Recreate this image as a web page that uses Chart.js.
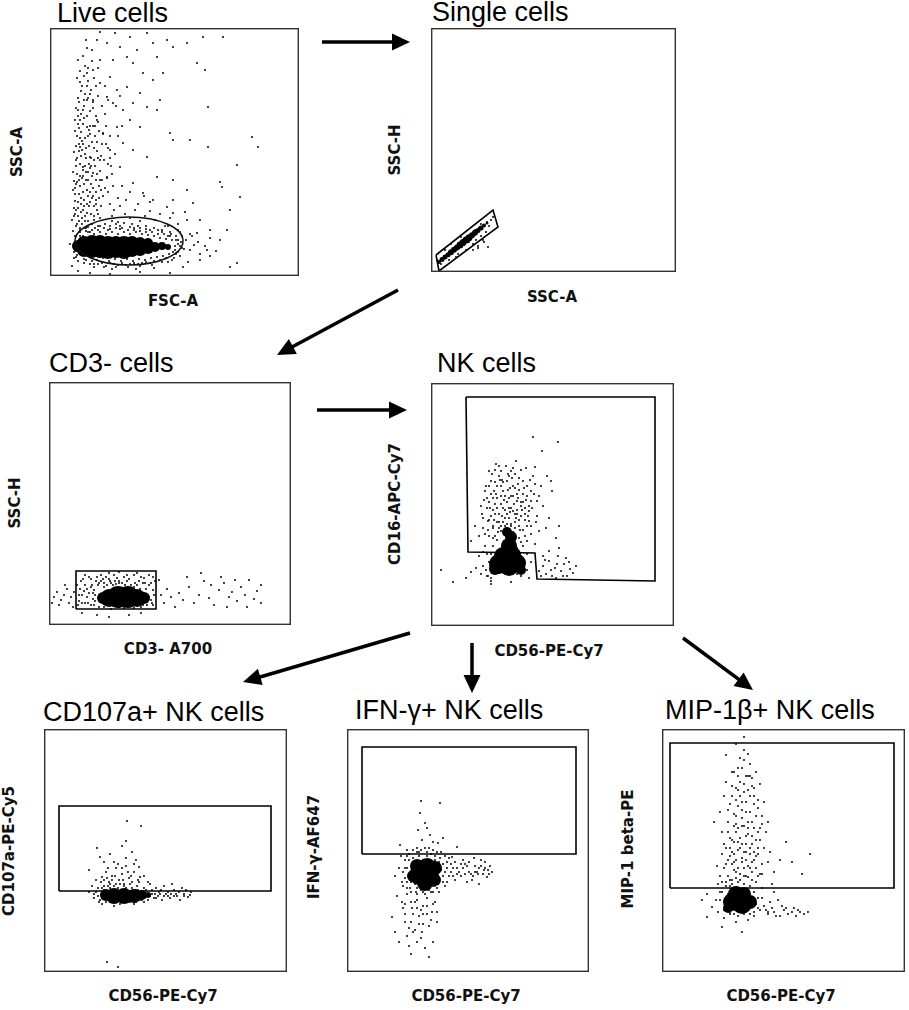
<!DOCTYPE html>
<html lang="en">
<head>
  <meta charset="UTF-8">
  <title>NK cell gating</title>
  <style>
    body { margin: 0; background: #fff; }
    #page { position: relative; width: 909px; height: 1010px; overflow: hidden; background: #fff; }
    .panel { position: absolute; }
    .panel canvas { display: block; }
    .title {
      position: absolute; white-space: nowrap; line-height: 1;
      font-family: "Liberation Sans", Arial, sans-serif; font-size: 27px; color: #000;
    }
    .axis {
      position: absolute; white-space: nowrap; line-height: 1;
      font-family: "DejaVu Sans", Verdana, sans-serif; font-size: 15px; font-weight: bold; color: #111;
      transform: translate(-50%, -50%);
    }
    .axis.rot { transform: translate(-50%, -50%) rotate(-90deg); }
    svg { position: absolute; left: 0; top: 0; }
  </style>
</head>
<body>
  <div id="page"></div>

  <script src="https://cdn.jsdelivr.net/npm/chart.js@4"></script>
  <script>
    // ==== data (units: channel value, 0 at lower-left of each plot) ====
    // each plot: single events (dots), solid high-density core, gate

    // Live cells: FSC-A vs SSC-A
    const liveDots = [
      [47,236],[50,244],[57,233],[65,243],[70,229],[80,239],[87,226],[97,243],[103,233],[117,236],[123,229],[137,233],
      [153,239],[173,239],[155,206],[147,213],[107,219],[93,203],[83,213],[77,219],[63,216],[50,216],[43,206],[37,203],
      [50,193],[60,199],[67,186],[77,189],[90,183],[103,196],[113,203],[110,176],[97,169],[83,173],[73,166],[63,173],
      [57,179],[43,176],[33,166],[30,156],[37,149],[47,156],[53,143],[67,149],[80,156],[90,149],[107,166],[120,143],
      [123,136],[140,136],[158,169],[158,129],[202,139],[208,129],[187,111],[170,94],[172,89],[190,79],[180,66],[177,46],
      [160,46],[150,56],[143,73],[137,86],[123,96],[107,99],[97,119],[83,126],[73,133],[60,126],[50,116],[40,119],
      [30,129],[33,109],[43,103],[57,99],[70,109],[83,93],[93,83],[103,76],[117,69],[123,63],[137,56],[147,43],
      [157,26],[180,9],[187,13],[133,9],[150,16],[123,76],
      [28,60],[31,72],[35,55],[38,80],[30,90],[33,100],[36,118],[29,125],[41,92],[44,70],[27,140],[32,135],
      [39,130],[45,140],[28,160],[34,170],[40,165],[31,185],[38,195],[43,150],[47,125],[50,105],[26,110],[30,48],
      [36,45],[42,52],[48,62],[53,80],[55,88],[58,112],[46,84],[37,63],[33,84],[25,75],[52,132],[56,150],
      [28,178],[35,210],[24,95],[40,108],[49,145],[60,140],[62,60],[66,52],[70,70],[75,62],[80,58],[85,66],
      [90,55],[95,60],[100,65],[105,56],[110,62],[115,50],[120,58],[128,52],[135,64],[142,40],[148,34],[155,30],
      [160,38],[166,25],[30,30],[26,25],[24,18],[22,10],[28,5],[40,3],[60,2],[90,4],[120,3],[160,20],[170,36],
      [26,66],[29,82],[32,58],[34,92],[27,102],[36,104],[30,112],[38,96],[42,78],[25,88],[31,120],[35,138],
      [29,148],[26,130],[40,142],[33,152],[37,176],[24,60],[27,52],[44,60],[39,70],[46,96],[51,70],[33,66],
      [30,40],[35,48],[40,44],[45,48],[50,50],[55,52],[62,55],[68,54],[74,53],[82,52],[88,50],[96,50],
      [104,48],[112,46],[120,44],[126,40],[131,34],[134,27],[130,20],[122,16],[112,14],[100,13],[88,12],[76,11],
      [64,12],[52,13],[42,15],[34,17],[27,21],[25,40],[58,46],[70,47],[84,46],[96,44],[108,42],[118,40],
      [140,42],[144,31],[150,22],[138,14],[62,7],[44,9],[86,7],[104,8],[125,30],[128,36],[123,24],[20,32],
      [23,45],[26,50],[29,55],[32,52],[35,60],[38,55],[41,62],[44,56],[47,66],[50,58],[24,68],[28,74],
      [31,78],[34,70],[37,86],[40,74],[43,88],[46,76],[49,90],[52,96],[25,82],[27,94],[30,100],[33,106],
      [36,96],[39,112],[42,100],[45,110],[48,118],[51,86],[23,104],[26,116],[29,132],[32,126],[35,122],[38,140],
      [41,118],[44,128],[47,134],[25,145],[28,152],[31,144],[34,158],[37,160],[40,150],[43,168],[46,160],[26,168],
      [29,174],[32,190],[35,182],[38,178],[41,186],[27,198],[30,205],[33,220],[37,228],[44,198],[42,215],[48,180],
      [52,170],[55,162],[58,128],[54,116],[57,98],[60,72],[63,90],[61,110],[65,122],[68,140],[72,150],[66,170],[70,180],
      [22,56],[25,62],[28,68],[31,64],[34,76],[37,72],[40,84],[43,80],[46,72],[49,78],[23,86],[26,92],
      [29,96],[32,98],[35,110],[38,104],[41,110],[44,116],[47,102],[50,96],[24,124],[27,118],[30,138],[33,132],
      [36,128],[39,146],[42,134],[45,150],[48,154],[51,120],[25,156],[28,166],[31,162],[34,176],[37,190],[40,182],
      [43,174],[46,190],[30,194],[34,200],[38,208],[28,216],[36,236],[42,226],[48,208],[55,190],[58,176],[53,142],
      [56,132],[60,118],[62,102],[58,84],[64,66],[68,78],[72,90],[76,76],[80,84],[88,72],[94,80],[100,74],
      [28,34],[26,28],[30,22],[33,40],[36,16],[38,44],[41,20],[44,42],[47,16],[50,44],[53,18],[56,42],
      [59,15],[62,44],[65,17],[68,42],[71,15],[74,44],[77,17],[80,42],[83,15],[86,44],[89,17],[92,42],
      [95,16],[98,41],[101,18],[104,40],[107,19],[110,38],[113,20],[116,37],[119,22],[122,36],[125,26],[128,32],
      [121,42],[112,44],[100,46],[90,48],[80,49],[70,50],[60,50],[48,50],[38,49],[30,46],[26,40],[24,32],
      [44,12],[56,10],[68,11],[80,12],[92,13],[104,15],[116,18],[126,22],[132,28],[132,40],[128,46],[118,50],
      [30,44],[36,48],[42,46],[48,46],[54,48],[60,47],[66,48],[72,48],[78,46],[84,48],[90,45],[96,47],
      [102,44],[108,46],[114,42],[120,40],[126,36],[130,30],[128,24],[124,18],[118,14],[110,16],[102,11],[96,14],
      [90,10],[84,13],[78,9],[72,13],[66,9],[60,13],[54,9],[48,12],[40,12],[34,13],[28,15],[26,19],
      [24,24],[130,44],[136,36],[140,26]
    ];
    const liveCore = [
      {x:28,y:30,r:6},{x:34,y:26,r:7},{x:34,y:33,r:7},{x:42,y:25,r:7},{x:42,y:33,r:8},{x:50,y:26,r:8},
      {x:50,y:34,r:7},{x:58,y:25,r:8},{x:58,y:32,r:8},{x:66,y:26,r:8},{x:66,y:33,r:7},{x:74,y:25,r:8},
      {x:74,y:32,r:8},{x:82,y:26,r:7},{x:82,y:33,r:7},{x:90,y:27,r:7},{x:90,y:33,r:6},{x:98,y:28,r:6},
      {x:98,y:33,r:5},{x:105,y:29,r:5},{x:112,y:30,r:4},{x:118,y:29,r:3}
    ];
    const liveGate = [79, 35, 54, 24];               // ellipse: centre x, centre y, radius x, radius y

    // Single cells: SSC-A vs SSC-H
    const singleDots = [
      [56,50],[60,52],[50,48],[44,42],[38,30],[45,32],[50,36],[42,28],[47,26],[53,30],[35,22],[30,35],
      [20,28],[14,22],[25,15],[55,40],[58,46],[42,22],[47,24],[52,32],[57,25],[10,8],[6,12],[62,55],
      [33,27],[27,18],[18,12],[40,38],[48,44],[36,34]
    ];
    const singleCore = [
      {x:8,y:10,r:2},{x:11,y:12.4,r:2.5},{x:14,y:14.9,r:2.5},{x:17,y:17.3,r:2.5},{x:20,y:19.7,r:3},
      {x:23,y:22.2,r:3},{x:26,y:24.6,r:3},{x:29,y:27,r:3.5},{x:32,y:29.4,r:3.5},{x:35,y:31.9,r:3.5},
      {x:38,y:34.3,r:3.5},{x:41,y:36.7,r:3},{x:44,y:39.2,r:3},{x:47,y:41.6,r:2.5},{x:50,y:44,r:2.5},
      {x:53,y:46.5,r:2},{x:56,y:48.9,r:1.5}
    ];
    const singleGate = [[5,17],[62,62],[67,45],[8,1],[5,17]];

    // CD3- cells: CD3-A700 vs SSC-H
    const cd3Dots = [
      [30,30],[33,22],[36,40],[40,48],[42,20],[45,35],[47,44],[52,50],[55,42],[60,46],[65,50],[70,44],
      [75,48],[80,46],[85,50],[90,44],[95,47],[100,40],[104,35],[102,25],[98,20],[92,18],[85,17],[105,30],
      [38,28],[31,36],[44,26],[50,18],[62,16],[75,17],[88,40],[64,40],[55,38],[100,50],[70,53],
      [29,20],[32,44],[35,34],[39,22],[43,40],[46,30],[49,40],[52,44],[55,18],[58,40],[61,44],[64,20],
      [67,41],[70,18],[73,42],[76,40],[79,19],[82,40],[85,38],[88,22],[91,36],[94,20],[97,36],[100,28],
      [103,22],[106,44],[45,20],[48,48],[57,48],[68,47],[78,50],[92,48],[36,22],[40,32],[33,30],[28,40],
      [104,48],[96,42],
      [30,24],[34,46],[38,36],[42,46],[46,24],[50,42],[54,46],[58,20],[62,42],[66,44],[70,42],[74,20],
      [78,44],[82,20],[86,42],[90,20],[94,42],[98,24],[102,42],[104,20],[36,50],[60,52],[88,52],[44,32],[42,38],
      [5,28],[8,33],[12,25],[15,30],[18,36],[20,22],[22,28],[25,33],[10,20],[16,40],[3,22],[24,18],
      [33,12],[48,10],[60,8],[80,10],[92,12],
      [112,30],[115,22],[118,36],[122,28],[126,18],[130,32],[134,25],[140,38],[145,22],[150,30],[155,44],
      [160,27],[165,20],[170,35],[175,42],[180,28],[183,33],[188,24],[192,38],[196,30],[200,45],[205,26],
      [208,34],[212,40],[212,22],[198,18],[186,45],[172,48],[152,52],[138,48],[162,40],[178,18],[110,45]
    ];
    const cd3Core = [
      {x:54,y:27,r:6},{x:60,y:27,r:9},{x:69,y:28,r:11},{x:79,y:28,r:11},{x:88,y:27,r:9},{x:95,y:27,r:6}
    ];
    const cd3Gate = [[27,16],[107,16],[107,54],[27,54],[27,16]];

    // NK cells: CD56-PE-Cy7 vs CD16-APC-Cy7
    const nkDots = [
      [50,120],[54,135],[57,105],[60,145],[62,128],[64,112],[66,140],[68,150],[70,122],[72,135],[74,108],[76,145],
      [78,128],[80,155],[82,115],[84,138],[86,125],[88,148],[90,110],[92,132],[94,118],[96,140],[98,105],[100,125],
      [102,150],[104,159],[106,110],[108,95],[58,90],[62,98],[66,86],[70,95],[74,100],[78,90],[84,98],[88,88],
      [92,96],[96,85],[100,92],[104,82],[54,80],[48,70],[52,60],[56,50],[45,58],[40,54],[60,48],[90,50],
      [96,56],[100,64],[44,100],[40,85],[112,120],[115,98],[118,108],[121,135],[125,88],[128,100],[65,162],[75,160],
      [85,165],[58,155],[56,118],[60,132],[68,104],[72,118],[80,102],[86,112],[90,124],[94,106],[64,122],[76,112],
      [82,130],[70,140],[78,150],[88,136],[98,115],[52,98],[56,72],[96,72],[98,48],[50,52],
      [55,56],[58,64],[60,72],[62,80],[57,50],[60,45],[86,52],[88,62],[90,70],[86,78],[84,86],[82,94],
      [80,100],[64,90],[62,100],[66,104],[72,104],[78,108],[84,104],[68,112],[74,116],[80,118],[86,116],[62,116],
      [58,106],[92,80],[94,90],[88,100],[90,120],[76,124],[66,128],[70,100],[54,92],[52,74],[96,100],[98,120],
      [82,140],[74,130],[64,144],[70,155],[92,145],[100,135],[106,125],[110,140],[58,140],[52,108],[48,90],[84,152],
      [95,158],[63,135],[87,128],[79,138],[71,146],
      [51,112],[53,126],[55,140],[57,96],[59,118],[61,152],[63,106],[65,132],[67,94],[69,146],[71,110],[73,126],
      [75,98],[77,136],[79,114],[81,148],[83,122],[85,108],[87,142],[89,96],[91,116],[93,138],[95,126],[97,110],
      [99,146],[101,118],[103,132],[105,104],[66,118],[74,92],[82,84],[90,84],[62,88],[58,124],[70,130],[78,118],
      [86,132],[94,112],[100,100],[68,98],[76,102],[84,112],[92,124],[60,110],[72,144],[80,130],[88,106],[96,130],
      [64,156],[82,158],[90,156],[56,128],[104,142],[108,130],[68,160],[77,152],
      [108,55],[112,60],[115,52],[118,65],[121,50],[124,58],[127,70],[130,55],[133,62],[136,50],[139,57],[142,53],
      [145,60],[118,75],[128,78],[112,70],[125,48],[135,68],[110,50],[114,66],[120,56],[126,62],[132,50],[138,64],
      [10,56],[22,44],[35,48],[60,42],[80,44],[102,189],[127,184],[111,175],[116,150],[120,145]
    ];
    const nkCore = [
      {x:68,y:62,r:10},{x:78,y:60,r:10},{x:86,y:63,r:9},{x:72,y:70,r:9},{x:82,y:71,r:8},{x:78,y:80,r:8},
      {x:80,y:89,r:6},{x:76,y:94,r:5},{x:64,y:57,r:6},{x:90,y:56,r:5}
    ];
    const nkGate = [[35,229],[224,229],[224,45],[106,47],[104,73],[37,74],[35,229]];

    // CD107a+ NK cells: CD56-PE-Cy7 vs CD107a-PE-Cy5
    const cd107Dots = [
      [45,80],[48,86],[50,74],[52,92],[55,70],[58,95],[60,82],[62,100],[65,90],[68,96],[70,86],[72,104],
      [75,92],[78,98],[80,88],[82,106],[85,94],[88,90],[90,100],[93,86],[96,95],[100,84],[104,90],[50,78],
      [58,68],[70,66],[90,68],[100,70],
      [56,72],[58,84],[60,76],[62,70],[64,86],[66,88],[70,70],[72,88],[76,68],[80,86],[84,70],[88,84],
      [92,70],[94,82],[98,72],[102,82],[106,76],[108,82],[111,78],[114,76],[117,82],[120,76],[124,80],[127,78],
      [132,78],[135,80],[142,82],[146,77],[54,84],[57,90],[63,94],[71,96],[79,92],[87,96],[95,90],[70,110],
      [78,104],[84,100],[90,108],[100,96],[106,88],
      [58,74],[60,86],[66,84],[66,70],[74,84],[78,70],[82,84],[86,70],[92,82],[96,72],[100,80],[104,72],
      [108,78],[112,74],[116,78],[124,76],[130,76],[140,76],[54,76],[52,80],[60,92],[68,92],[76,88],[86,88],[94,92],
      [105,78],[110,74],[115,80],[118,72],[122,78],[126,74],[130,82],[133,76],[136,72],[140,78],[144,75],[147,80],
      [120,86],[128,88],[112,84],[138,84],
      [60,110],[66,118],[74,108],[88,120],[78,126],[95,105],[64,104],
      [83,151],[97,146],[82,131],[53,124],[56,115],[82,114],[92,112],[45,102],[63,10],[74,5]
    ];
    const cd107Core = [
      {x:62,y:77,r:6},{x:70,y:76,r:8},{x:80,y:76,r:8},{x:90,y:76,r:7},{x:98,y:77,r:5},{x:104,y:77,r:3}
    ];
    const cd107Gate = [[15,81],[227,81],[227,166],[15,166],[15,81]];

    // IFN-g+ NK cells: CD56-PE-Cy7 vs IFN-g-AF647
    const ifnDots = [
      [48,96],[52,104],[55,90],[58,112],[60,84],[62,118],[64,100],[66,108],[68,88],[70,120],[72,94],[84,118],
      [88,112],[90,90],[92,104],[94,120],[96,96],[98,86],[100,110],[104,100],[108,92],[54,116],[60,122],[74,122],
      [80,84],[86,86],
      [62,96],[64,90],[65,106],[66,114],[70,84],[74,82],[82,82],[88,86],[92,94],[94,102],[92,110],[88,116],
      [80,116],[72,116],[66,100],[60,104],[58,94],[96,108],[100,104],[102,96],[104,108],[108,110],[112,100],[116,104],
      [120,106],[124,98],[128,100],[132,104],[136,98],[141,102],[106,96],[60,90],[56,100],[62,112],[70,124],[82,124],
      [90,120],[98,116],[64,80],[70,78],[78,78],[86,80],[68,70],[74,62],[80,58],[66,58],[58,68],[86,68],
      [76,48],[70,30],[64,18],
      [56,86],[58,104],[60,116],[63,84],[66,122],[69,80],[72,120],[76,80],[80,120],[84,80],[86,122],[90,84],
      [93,114],[96,90],[98,100],[100,90],[102,114],[106,104],[110,98],[114,108],[118,98],[122,110],[126,96],[130,100],
      [134,106],[138,104],[142,98],[64,70],[70,64],[76,58],[72,48],[66,40],[80,66],[84,52],[58,50],[62,44],
      [74,34],[86,30],[56,64],[90,60],
      [110,104],[114,96],[118,108],[122,100],[125,92],[128,106],[131,98],[134,112],[137,102],[140,95],[143,106],[145,100],
      [120,90],[132,88],[116,112],[127,114],[138,110],[105,115],
      [50,76],[55,70],[60,78],[65,64],[70,72],[58,58],[64,50],[72,56],[76,66],[80,74],[85,60],[68,42],
      [60,36],[52,30],[75,40],[82,46],[88,70],[90,50],[45,55],[48,40],[78,24],[82,15],[92,80],[62,26],
      [74,171],[93,169],[73,159],[78,149],[80,144],[71,142],[83,137],[96,134],[75,132],[86,130],[91,129],[53,127],
      [78,124],[110,125]
    ];
    const ifnCore = [
      {x:72,y:97,r:10},{x:82,y:96,r:10},{x:80,y:104,r:10},{x:70,y:106,r:7},{x:88,y:104,r:7},{x:78,y:89,r:8},
      {x:88,y:92,r:6},{x:66,y:96,r:6}
    ];
    const ifnGate = [[15,118],[229,118],[229,225],[15,225],[15,118]];

    // MIP-1b+ NK cells: CD56-PE-Cy7 vs MIP-1 beta-PE
    const mipDots = [
      [60,90],[66,96],[70,88],[74,100],[78,92],[82,104],[86,95],[90,100],[94,90],[98,98],[64,108],[68,116],
      [72,110],[76,122],[80,114],[84,128],[88,118],[92,112],[96,124],[100,108],[70,132],[74,140],[78,134],[82,146],
      [86,138],[90,150],[94,132],[98,144],[66,150],[72,158],[76,166],[80,154],[84,170],[88,160],[92,176],[96,164],
      [70,176],[74,184],[78,190],[82,180],[86,196],[90,186],[94,200],[72,200],[80,204],[88,208],[62,128],[58,160],
      [104,140],[108,120],[55,106],[102,170],[106,150],[112,100],[118,112],[124,130],[110,88],[60,140],[64,190],[98,188],
      [52,150],[130,110],[140,98],[148,118],[68,124],[76,144],[84,112],[90,136],[80,170],[86,182],[74,156],[92,120],
      [62,62],[64,70],[66,78],[68,60],[68,86],[72,58],[76,56],[82,58],[88,58],[92,60],[94,68],[96,74],
      [92,80],[88,86],[82,88],[76,90],[70,92],[64,90],[60,80],[58,72],[98,62],[102,66],[106,60],[90,92],
      [84,96],[78,98],[72,102],[86,106],[80,110],[74,112],[94,104],[88,124],[76,130],[82,120],[70,120],[96,140],
      [84,160],[78,176],[90,194],[76,196],[82,212],[68,168],[74,148],[86,144],[92,168],[100,156],[70,108],[96,118],
      [66,140],[80,128],
      [58,96],[62,104],[66,112],[64,124],[68,134],[72,146],[66,162],[70,186],[76,204],[84,196],[92,184],[96,172],
      [100,148],[98,132],[94,116],[88,104],[82,96],[76,104],[72,118],[78,124],[84,136],[90,128],[86,150],[80,162],
      [74,172],[82,188],[88,176],[94,156],[76,182],[70,200],[86,218],[78,214],[62,176],[60,118],[102,124],[100,98],
      [106,110],[68,92],[74,94],[90,110],[96,96],[80,146],[88,196],[72,130],[84,120],[92,144],
      [50,65],[54,72],[56,60],[58,80],[62,54],[64,86],[68,58],[92,56],[96,64],[100,74],[104,62],[108,70],
      [100,84],[56,88],[86,52],[74,50],[112,80],[116,72],
      [106,58],[112,60],[118,56],[122,62],[126,58],[130,60],[134,56],[138,60],[142,58],[146,60],[120,66],[132,64],
      [110,64],[114,56],[124,64],[136,62],
      [82,235],[74,228],[82,222],[64,217],[40,72],[45,78],[45,55],[60,45],[80,40]
    ];
    const mipCore = [
      {x:70,y:70,r:9},{x:80,y:68,r:10},{x:88,y:70,r:7},{x:74,y:78,r:8},{x:82,y:78,r:7},{x:66,y:64,r:5}
    ];
    const mipGate = [[8,84],[232,84],[232,229],[8,229],[8,84]];

    const titles = ['Live cells', 'Single cells', 'CD3- cells', 'NK cells', 'CD107a+ NK cells', 'IFN-γ+ NK cells', 'MIP-1β+ NK cells'];
    const xLabels = ['FSC-A', 'SSC-A', 'CD3- A700', 'CD56-PE-Cy7', 'CD56-PE-Cy7', 'CD56-PE-Cy7', 'CD56-PE-Cy7'];
    const yLabels = ['SSC-A', 'SSC-H', 'SSC-H', 'CD16-APC-Cy7', 'CD107a-PE-Cy5', 'IFN-γ-AF647', 'MIP-1 beta-PE'];

    // ==== layout of the figure ====
    const panels = [
      { left: 50, top: 28, w: 249, h: 248, dots: liveDots, core: liveCore, ellipse: liveGate,
        title: [57, 0], xl: [173, 301], yl: [17, 152] },
      { left: 431, top: 28, w: 245, h: 244, dots: singleDots, core: singleCore, gate: singleGate,
        title: [432, -1], xl: [552, 297], yl: [395, 150] },
      { left: 49, top: 382, w: 242, h: 243, dots: cd3Dots, core: cd3Core, gate: cd3Gate,
        title: [49, 350], xl: [168, 649], yl: [15, 503] },
      { left: 431, top: 383, w: 243, h: 243, dots: nkDots, core: nkCore, gate: nkGate,
        title: [437, 350], xl: [549, 651], yl: [395, 504] },
      { left: 44, top: 729, w: 243, h: 243, dots: cd107Dots, core: cd107Core, gate: cd107Gate,
        title: [43, 699], xl: [163, 996], yl: [9, 851] },
      { left: 347, top: 729, w: 242, h: 243, dots: ifnDots, core: ifnCore, gate: ifnGate,
        title: [355, 697], xl: [466, 996], yl: [314, 847] },
      { left: 662, top: 729, w: 243, h: 243, dots: mipDots, core: mipCore, gate: mipGate,
        title: [665, 697], xl: [781, 996], yl: [628, 849] }
    ];

    const arrows = [
      [322, 42, 410, 42], [398, 290, 277, 355], [317, 410, 407, 410],
      [410, 633, 243, 682], [472, 643, 472, 693], [683, 638, 753, 690]
    ];

    const page = document.getElementById('page');

    function addText(cls, txt, x, y) {
      const d = document.createElement('div');
      d.className = cls;
      d.textContent = txt;
      d.style.left = x + 'px';
      d.style.top = y + 'px';
      page.appendChild(d);
    }

    // plot frame + ellipse gate
    const framePlugin = {
      id: 'frame',
      afterDatasetsDraw(chart, args, opts) {
        const { ctx, chartArea: a, scales } = chart;
        ctx.save();
        if (opts.ellipse) {
          const [cx, cy, rx, ry] = opts.ellipse;
          const px = scales.x.getPixelForValue(cx), py = scales.y.getPixelForValue(cy);
          const prx = Math.abs(scales.x.getPixelForValue(cx + rx) - px);
          const pry = Math.abs(scales.y.getPixelForValue(cy + ry) - py);
          ctx.beginPath();
          ctx.ellipse(px, py, prx, pry, 0, 0, Math.PI * 2);
          ctx.lineWidth = 1.5;
          ctx.strokeStyle = '#111';
          ctx.stroke();
        }
        ctx.lineWidth = 1.4;
        ctx.strokeStyle = '#333';
        ctx.strokeRect(a.left + 0.7, a.top + 0.7, a.right - a.left - 1.4, a.bottom - a.top - 1.4);
        ctx.restore();
      }
    };

    panels.forEach((p, i) => {
      const box = document.createElement('div');
      box.className = 'panel';
      box.style.left = p.left + 'px';
      box.style.top = p.top + 'px';
      const cv = document.createElement('canvas');
      cv.width = p.w; cv.height = p.h;
      cv.style.width = p.w + 'px'; cv.style.height = p.h + 'px';
      box.appendChild(cv);
      page.appendChild(box);

      const datasets = [
        {
          type: 'scatter', order: 2,
          data: p.dots.map(d => ({ x: d[0], y: d[1] })),
          pointRadius: 1.05, pointBackgroundColor: '#111', pointBorderWidth: 0
        },
        {
          type: 'bubble', order: 1,
          data: p.core,
          backgroundColor: '#000', borderWidth: 0
        }
      ];
      if (p.gate) {
        datasets.push({
          type: 'line', order: 0,
          data: p.gate.map(d => ({ x: d[0], y: d[1] })),
          borderColor: '#000', borderWidth: 1.6, pointRadius: 0, tension: 0, fill: false
        });
      }

      new Chart(cv, {
        type: 'scatter',
        data: { datasets },
        options: {
          responsive: false,
          animation: false,
          events: [],
          layout: { padding: 0, autoPadding: false },
          plugins: {
            legend: { display: false },
            tooltip: { enabled: false },
            frame: { ellipse: p.ellipse || null }
          },
          scales: {
            x: { type: 'linear', min: 0, max: p.w, display: false },
            y: { type: 'linear', min: 0, max: p.h, display: false }
          }
        },
        plugins: [framePlugin]
      });

      addText('title', titles[i], p.title[0], p.title[1]);
      addText('axis', xLabels[i], p.xl[0], p.xl[1]);
      addText('axis rot', yLabels[i], p.yl[0], p.yl[1]);
    });

    // gating arrows
    const NS = 'http://www.w3.org/2000/svg';
    const svg = document.createElementNS(NS, 'svg');
    svg.setAttribute('width', 909);
    svg.setAttribute('height', 1010);
    arrows.forEach(([x1, y1, x2, y2]) => {
      const L = Math.hypot(x2 - x1, y2 - y1), ux = (x2 - x1) / L, uy = (y2 - y1) / L;
      const hl = 18, hw = 8.5;
      const bx = x2 - ux * hl, by = y2 - uy * hl;
      const line = document.createElementNS(NS, 'line');
      line.setAttribute('x1', x1); line.setAttribute('y1', y1);
      line.setAttribute('x2', bx + ux * 2); line.setAttribute('y2', by + uy * 2);
      line.setAttribute('stroke', '#000'); line.setAttribute('stroke-width', 3.5);
      svg.appendChild(line);
      const head = document.createElementNS(NS, 'polygon');
      head.setAttribute('points', `${x2},${y2} ${bx - uy * hw},${by + ux * hw} ${bx + uy * hw},${by - ux * hw}`);
      head.setAttribute('fill', '#000');
      svg.appendChild(head);
    });
    page.appendChild(svg);
  </script>
</body>
</html>
